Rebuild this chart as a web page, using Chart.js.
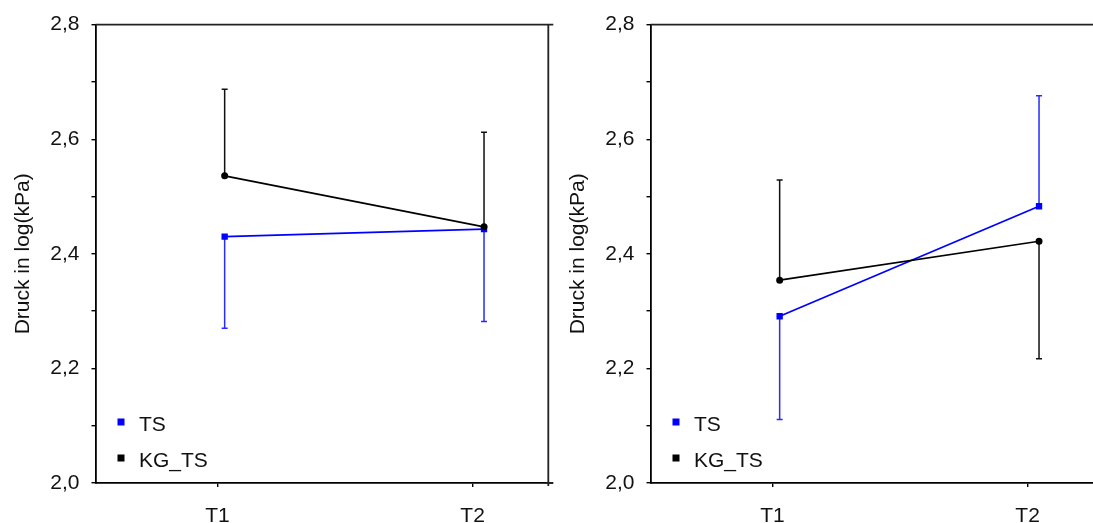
<!DOCTYPE html>
<html>
<head>
<meta charset="utf-8">
<script src="https://cdn.jsdelivr.net/npm/chart.js@4.4.1/dist/chart.umd.min.js"></script>
<style>
  html, body { margin: 0; padding: 0; background: #fff; overflow: hidden; }
  #wrap { position: relative; width: 1093px; height: 523px; overflow: hidden; }
  .panel { position: absolute; top: 0; width: 555px; height: 523px; }
  #p1 { left: 0; }
  #p2 { left: 555px; }
</style>
</head>
<body>
<div id="wrap">
  <div class="panel" id="p1"><canvas id="chartLeft"></canvas></div>
  <div class="panel" id="p2"><canvas id="chartRight"></canvas></div>
</div>
<script>
// Data
const categories = ["T1", "T2"];
const yLabelled = [2.0, 2.2, 2.4, 2.6, 2.8];
const seriesNames = ["TS", "KG_TS"];

// left panel
const tsLeft = [2.430, 2.443];
const tsLeftErr = [2.270, 2.282];
const kgLeft = [2.536, 2.447];
const kgLeftErr = [2.687, 2.612];

// right panel
const tsRight = [2.291, 2.483];
const tsRightErr = [2.111, 2.676];
const kgRight = [2.354, 2.422];
const kgRightErr = [2.529, 2.217];

const FONT = "'Liberation Sans', Arial, sans-serif";
const BLUE = "#0000ff";
const BLACK = "#000000";
const pointShift = [0.028, 0.045]; // points sit a bit right of the category tick

function toPoints(vals) {
  return vals.map((v, i) => ({ x: i + 1 + pointShift[i], y: v }));
}

// one-sided error bars, drawn under the points
const errorBars = {
  id: "errorBars",
  beforeDatasetsDraw(chart) {
    const { ctx, scales } = chart;
    chart.data.datasets.forEach((ds, di) => {
      const meta = chart.getDatasetMeta(di);
      ctx.save();
      ctx.strokeStyle = ds.errColor;
      ctx.lineWidth = 1.5;
      ds.errEnds.forEach((e, i) => {
        const p = meta.data[i];
        const ye = scales.y.getPixelForValue(e);
        ctx.beginPath();
        ctx.moveTo(p.x, p.y);
        ctx.lineTo(p.x, ye);
        ctx.moveTo(p.x - 3, ye);
        ctx.lineTo(p.x + 3, ye);
        ctx.stroke();
      });
      ctx.restore();
    });
  }
};

// box around plot + legend inside plot
const frameAndLegend = {
  id: "frameAndLegend",
  afterDraw(chart) {
    const { ctx, chartArea: a } = chart;
    ctx.save();
    ctx.strokeStyle = "#222";
    ctx.lineWidth = 1.8;
    ctx.beginPath();
    ctx.moveTo(a.left, a.top);
    ctx.lineTo(a.right, a.top);
    ctx.lineTo(a.right, a.bottom + 3);
    ctx.moveTo(a.right - 2, a.top);
    ctx.lineTo(a.right + 5, a.top);
    ctx.moveTo(a.right - 2, a.bottom);
    ctx.lineTo(a.right + 5, a.bottom);
    ctx.stroke();

    // legend
    const colors = [BLUE, BLACK];
    const rows = [a.bottom - 61, a.bottom - 25];
    ctx.font = "21px " + FONT;
    ctx.textBaseline = "alphabetic";
    ctx.textAlign = "left";
    seriesNames.forEach((name, i) => {
      ctx.fillStyle = colors[i];
      ctx.fillRect(a.left + 22, rows[i] - 3.5, 7, 7);
      ctx.fillStyle = "#111";
      ctx.fillText(name, a.left + 43.5, rows[i] + 9);
    });
    ctx.restore();
  }
};

function makeChart(id, ts, tsErr, kg, kgErr) {
  return new Chart(document.getElementById(id), {
    type: "line",
    data: {
      datasets: [
        {
          label: seriesNames[0],
          data: toPoints(ts),
          errEnds: tsErr,
          errColor: "#2a2aff",
          borderColor: BLUE,
          backgroundColor: BLUE,
          borderWidth: 1.8,
          pointStyle: "rect",
          pointRadius: 3.2,
          order: 1
        },
        {
          label: seriesNames[1],
          data: toPoints(kg),
          errEnds: kgErr,
          errColor: "#111",
          borderColor: BLACK,
          backgroundColor: BLACK,
          borderWidth: 1.6,
          pointStyle: "circle",
          pointRadius: 2.7,
          order: 0
        }
      ]
    },
    options: {
      responsive: true,
      maintainAspectRatio: false,
      animation: false,
      layout: { padding: { top: 23, right: 6.7, left: 0, bottom: 0 } },
      plugins: { legend: { display: false }, tooltip: { enabled: false } },
      scales: {
        x: {
          type: "linear",
          min: 0.5216,
          max: 2.297,
          afterBuildTicks: (s) => { s.ticks = categories.map((c, i) => ({ value: i + 1 })); },
          afterFit: (s) => { s.height = 40; },
          ticks: {
            callback: (v) => categories[Math.round(v) - 1] || "",
            font: { family: FONT, size: 21 },
            color: "#111",
            padding: 17,
            maxRotation: 0
          },
          grid: { drawOnChartArea: false, tickLength: 4, color: "#000", lineWidth: 1.4 },
          border: { color: "#000", width: 1.8 }
        },
        y: {
          min: 2.0,
          max: 2.8,
          afterFit: (s) => { s.width = 95.5; },
          ticks: {
            stepSize: 0.1,
            autoSkip: false,
            callback: (v) => {
              const r = Math.round(v * 10) / 10;
              return yLabelled.some((t) => Math.abs(t - r) < 1e-6) ? r.toFixed(1).replace(".", ",") : "";
            },
            font: { family: FONT, size: 21 },
            color: "#111",
            padding: 12
          },
          grid: { drawOnChartArea: false, tickLength: 4, color: "#000", lineWidth: 1.4 },
          border: { color: "#000", width: 1.8 },
          title: {
            display: true,
            text: "Druck in log(kPa)",
            font: { family: FONT, size: 21 },
            color: "#111",
            padding: { top: 11, bottom: 0 }
          }
        }
      }
    },
    plugins: [errorBars, frameAndLegend]
  });
}

makeChart("chartLeft", tsLeft, tsLeftErr, kgLeft, kgLeftErr);
makeChart("chartRight", tsRight, tsRightErr, kgRight, kgRightErr);
</script>
</body>
</html>
